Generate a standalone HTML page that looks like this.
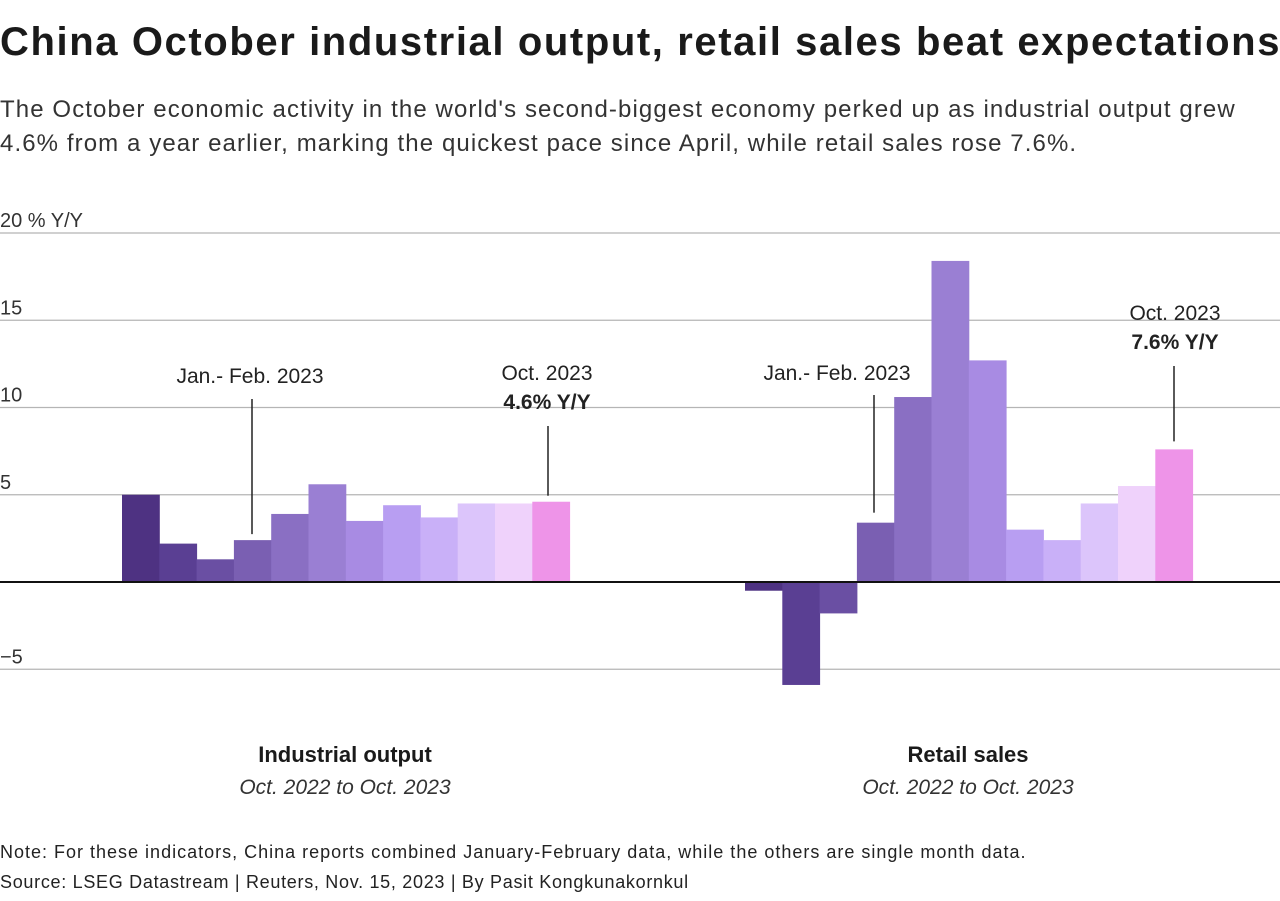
<!DOCTYPE html>
<html><head><meta charset="utf-8"><style>
body{margin:0;background:#fff;font-family:"Liberation Sans",sans-serif;color:#222;}
#wrap{position:relative;width:1280px;height:901px;overflow:hidden;}
.t{position:absolute;white-space:nowrap;}
</style></head><body><div id="wrap">
<div class="t" style="left:0;top:20px;font-size:40px;font-weight:bold;letter-spacing:1.6px;color:#1a1a1a">China October industrial output, retail sales beat expectations</div>
<div class="t" style="left:0;top:93px;font-size:24px;line-height:34px;color:#333;letter-spacing:1.1px">The October economic activity in the world's second-biggest economy perked up as industrial output grew<br>4.6% from a year earlier, marking the quickest pace since April, while retail sales rose 7.6%.</div>
<svg id="chart" width="1280" height="901" style="position:absolute;left:0;top:0"></svg>
<div class="t" style="left:0;top:842px;font-size:18px;color:#222;letter-spacing:1px">Note: For these indicators, China reports combined January-February data, while the others are single month data.</div>
<div class="t" style="left:0;top:872px;font-size:18px;color:#222;letter-spacing:0.7px">Source: LSEG Datastream | Reuters, Nov. 15, 2023 | By Pasit Kongkunakornkul</div>
</div>
<script>
const yTicks=[20,15,10,5,0,-5];
const industrial=[5.0,2.2,1.3,2.4,3.9,5.6,3.5,4.4,3.7,4.5,4.5,4.6];
const retail=[-0.5,-5.9,-1.8,3.4,10.6,18.4,12.7,3.0,2.4,4.5,5.5,7.6];
const colors=["#4e3282","#5a3f93","#6a4fa3","#7a5fb2","#8a6fc3","#9a7fd3","#a88be3","#b89ef2","#c9b0f8","#dcc5fb","#efd2fb","#ee94e8"];
const svg=document.getElementById('chart');const NS='http://www.w3.org/2000/svg';
const y=v=>582-v*17.45;
function mk(t,a,txt){const e=document.createElementNS(NS,t);for(const k in a)e.setAttribute(k,a[k]);if(txt!==undefined)e.textContent=txt;svg.appendChild(e);return e;}
yTicks.forEach(v=>{
 if(v!==0){const l=mk('line',{x1:0,x2:1280,y1:y(v),y2:y(v),stroke:'#b5b5b5','stroke-width':1.2});
 
 }
 if(v!==0){const t=mk('text',{x:0,y:y(v)-6,'font-size':20,fill:'#333','font-family':'Liberation Sans'},(v<0?'\u2212'+(-v):v)+(v===20?' % Y/Y':''));
 
 }
});
function bars(vals,x0,w,name){vals.forEach((v,i)=>{const r=mk('rect',{x:x0+i*w,y:Math.min(y(v),y(0)),width:w+0.5,height:Math.abs(y(v)-y(0)),fill:colors[i]});
 
 });}
bars(industrial,122,37.3,'industrial');
bars(retail,745,37.3,'retail');
const z=mk('line',{x1:0,x2:1280,y1:582,y2:582,stroke:'#111','stroke-width':2});


function ann(x,tx,yTop,yBot,lines,name){const l=mk('line',{x1:x,x2:x,y1:yTop,y2:yBot,stroke:'#222','stroke-width':1.5});
 
 
 lines.forEach((ln,k)=>{const t=mk('text',{x:tx,y:ln[1],'text-anchor':'middle','font-size':21,fill:'#222','font-weight':ln[2]?'bold':'normal','font-family':'Liberation Sans'},ln[0]);
 
 });}
ann(252,250,399,y(industrial[3])-6,[['Jan.- Feb. 2023',383]],'ind-janfeb');
ann(548,547,426,y(industrial[11])-6,[['Oct. 2023',380],['4.6% Y/Y',409,1]],'ind-oct');
ann(874,837,395,y(retail[3])-10,[['Jan.- Feb. 2023',380]],'ret-janfeb');
ann(1174,1175,366,y(retail[11])-8,[['Oct. 2023',320],['7.6% Y/Y',349,1]],'ret-oct');
[[345,'Industrial output'],[968,'Retail sales']].forEach(p=>{const t=mk('text',{x:p[0],y:762,'text-anchor':'middle','font-size':22,'font-weight':'bold',fill:'#1a1a1a','font-family':'Liberation Sans'},p[1]);
 
 
 const s=mk('text',{x:p[0],y:794,'text-anchor':'middle','font-size':21,'font-style':'italic',fill:'#333','font-family':'Liberation Sans'},'Oct. 2022 to Oct. 2023');
 
 });
</script></body></html>
